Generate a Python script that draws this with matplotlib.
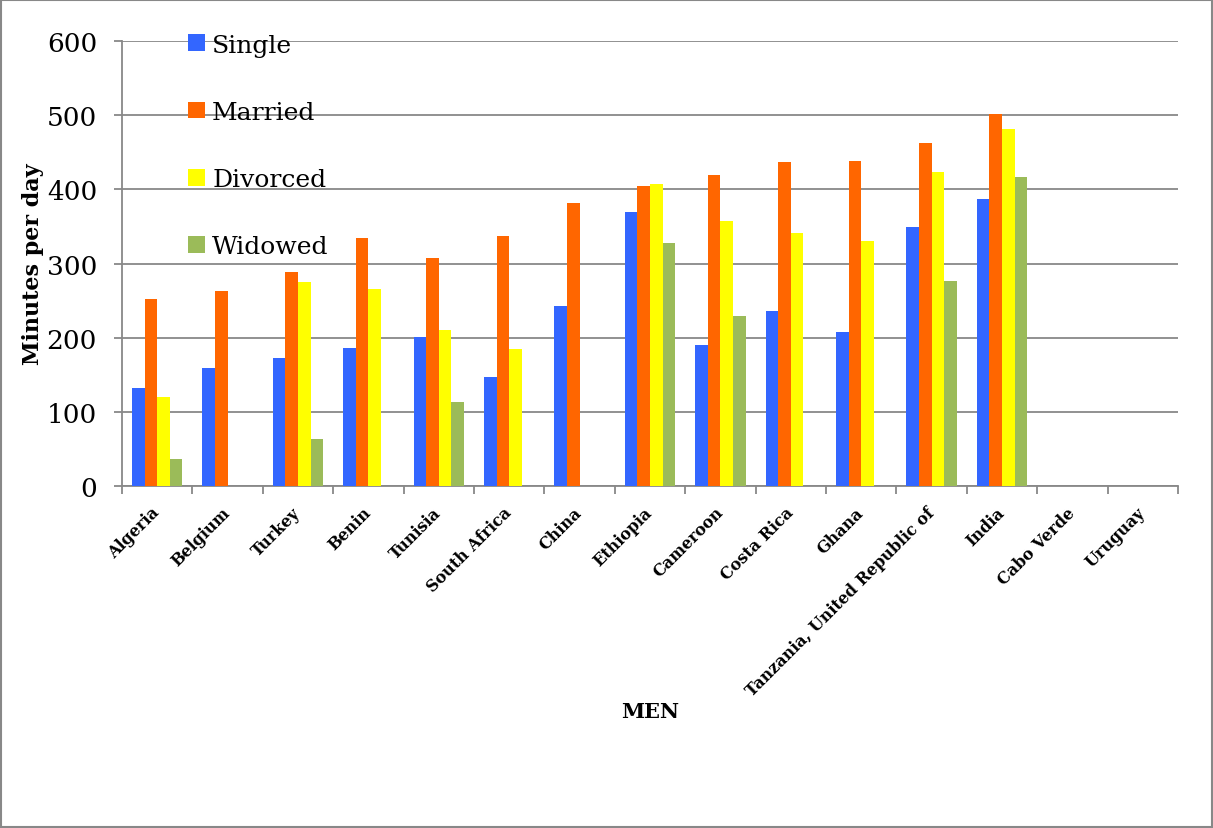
import numpy as np
import matplotlib.pyplot as plt
from matplotlib.patches import Rectangle

# -----------------------------
# Data (minutes per day, men)
# -----------------------------
countries = ["Algeria", "Belgium", "Turkey", "Benin", "Tunisia", "South Africa",
             "China", "Ethiopia", "Cameroon", "Costa Rica", "Ghana",
             "Tanzania, United Republic of", "India", "Cabo Verde", "Uruguay"]

single = [132, 159, 172, 186, 201, 147, 243, 369, 190, 236, 208, 349, 387, np.nan, np.nan]
married = [252, 263, 288, 334, 308, 337, 382, 404, 419, 437, 438, 463, 501, np.nan, np.nan]
divorced = [120, np.nan, 275, 265, 211, 185, np.nan, 407, 357, 341, 331, 424, 482, np.nan, np.nan]
widowed = [36, np.nan, 63, np.nan, 113, np.nan, np.nan, 328, 229, np.nan, np.nan, 276, 417, np.nan, np.nan]

series = ["Single", "Married", "Divorced", "Widowed"]
colors = ["#3366FF", "#FF6600", "#FFFF00", "#9BBB59"]

plt.rcParams['font.family'] = ['DejaVu Serif']

fig = plt.figure(figsize=(12.13, 8.29), dpi=100)
ax = fig.add_axes([0.1006, 0.4125, 0.8705, 0.5368])

x = np.arange(len(countries))
w = 0.179
for i, (name, vals, c) in enumerate(zip(series, [single, married, divorced, widowed], colors)):
    ax.bar(x + (i - 1.5) * w, vals, width=w, color=c, label=name, zorder=3)

ax.set_xlim(-0.5, len(countries) - 0.5)
ax.set_ylim(0, 600)
ax.set_yticks(range(0, 601, 100))
ax.tick_params(axis='y', labelsize=19, length=6, width=1.3, color='#888888', pad=12)
ax.yaxis.grid(True, color='#888888', linewidth=1.3, zorder=0)
ax.set_axisbelow(True)

# labels at category centers, tick marks between categories
ax.set_xticks(x)
ax.set_xticklabels(countries, rotation=45, ha='right', va='center', rotation_mode='anchor',
                   fontsize=11.5, fontweight='bold')
ax.tick_params(axis='x', which='major', length=0, pad=17)
ax.set_xticks(np.arange(-0.5, len(countries), 1), minor=True)
ax.tick_params(axis='x', which='minor', length=6, width=1.3, color='#888888')

for s in ['top', 'right']:
    ax.spines[s].set_visible(False)
for s in ['left', 'bottom']:
    ax.spines[s].set_color('#888888')
    ax.spines[s].set_linewidth(1.3)

ax.set_ylabel("Minutes per day", fontsize=16, fontweight='bold', labelpad=2)
fig.text(0.536, 0.141, "MEN", fontsize=15, fontweight='bold', ha='center', va='center')

ax.legend(loc='upper left', bbox_to_anchor=(0.051, 1.045), frameon=False,
          fontsize=18, labelspacing=1.77, handlelength=0.65, handleheight=0.65,
          handletextpad=0.3, borderpad=0)

fig.patches.append(Rectangle((0.001, 0.001), 0.998, 0.998, transform=fig.transFigure,
                             fill=False, edgecolor='#888888', linewidth=1.5))

fig.savefig("out.png", dpi=100)
